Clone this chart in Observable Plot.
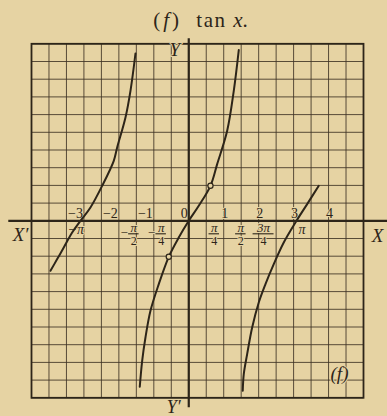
<!DOCTYPE html>
<html>
<head>
<meta charset="utf-8">
<script src="https://cdn.jsdelivr.net/npm/d3@7"></script>
<script src="https://cdn.jsdelivr.net/npm/@observablehq/plot@0.6"></script>
<style>
  html, body { margin: 0; padding: 0; background: #e6d3a3; }
  #chart svg { display: block; }
</style>
</head>
<body>
<div id="chart"></div>
<script>
// ---------- data ----------
const titleText = "(f) tan x.";
const cornerLabel = "(f)";

const intTickValues = [-3, -2, -1, 0, 1, 2, 3, 4];
const intTickLabels = ["−3", "−2", "−1", "0", "1", "2", "3", "4"];

const piWholeValues = [-Math.PI, Math.PI];
const piWholeLabels = ["−π", "π"];

const piFracValues = [-1.571, -0.79, 0.73, 1.49, 2.14];
const piFracSigns = ["−", "−", "", "", ""];
const piFracNumerators = ["π", "π", "π", "π", "3π"];
const piFracDenominators = ["2", "4", "4", "2", "4"];

const branch1X = [-3.957, -3.765, -3.577, -3.336, -3.099, -2.813, -2.478, -2.146, -2.049, -1.811, -1.668, -1.525];
const branch1Y = [-1.412, -1.082, -0.754, -0.331, 0, 0.376, 0.989, 1.695, 2.071, 2.918, 3.672, 4.726];

const branch2X = [-1.402, -1.333, -1.239, -1.096, -0.858, -0.572, -0.286, 0, 0.286, 0.621, 0.813, 1.099, 1.288, 1.431];
const branch2Y = [-4.689, -3.955, -3.297, -2.542, -1.788, -1.017, -0.472, 0, 0.424, 0.989, 1.602, 2.542, 3.672, 4.822];

const branch3X = [1.545, 1.574, 1.671, 1.814, 2.003, 2.195, 2.432, 2.718, 3.053, 3.388, 3.720];
const branch3Y = [-4.802, -4.331, -3.766, -3.014, -2.308, -1.788, -1.223, -0.613, -0.048, 0.472, 0.989];

const markedX = [0.621, -0.572];
const markedY = [0.989, -1.017];

const xDomain = [-4.5, 5];
const yDomain = [-5, 5];
const gridStep = 0.5;
const xAxisExtent = [-5.15, 5.7];
const yAxisExtent = [-5.28, 5.14];

// ---------- styles ----------
const ink = "#2d2519";
const gridInk = "#3e3324";
const paper = "#e6d3a3";
const serif = "'Liberation Serif', 'DejaVu Serif', serif";

// ---------- tables ----------
const curve = [
  ...branch1X.map((x, i) => ({branch: "a", x, y: branch1Y[i]})),
  ...branch2X.map((x, i) => ({branch: "b", x, y: branch2Y[i]})),
  ...branch3X.map((x, i) => ({branch: "c", x, y: branch3Y[i]}))
];
const intTicks = intTickValues.map((v, i) => ({v, label: intTickLabels[i]}));
const piWhole = piWholeValues.map((v, i) => ({v, label: piWholeLabels[i]}));
const piFracs = piFracValues.map((v, i) => ({
  v, sign: piFracSigns[i], num: piFracNumerators[i], den: piFracDenominators[i]
}));
const marked = markedX.map((x, i) => ({x, y: markedY[i]}));
const xGrid = d3.range(xDomain[0], xDomain[1] + 1e-9, gridStep);
const yGrid = d3.range(yDomain[0], yDomain[1] + 1e-9, gridStep);

const halo = {stroke: paper, strokeWidth: 2, fill: ink};

const chart = Plot.plot({
  width: 387,
  height: 416,
  marginLeft: 31,
  marginRight: 24,
  marginTop: 43.3,
  marginBottom: 18.7,
  x: {domain: xDomain, axis: null},
  y: {domain: yDomain, axis: null},
  style: {background: paper, fontFamily: serif, color: ink, overflow: "visible"},
  marks: [
    Plot.gridX(xGrid, {stroke: gridInk, strokeOpacity: 0.95, strokeWidth: 0.9}),
    Plot.gridY(yGrid, {stroke: gridInk, strokeOpacity: 0.95, strokeWidth: 0.9}),
    Plot.frame({stroke: ink, strokeWidth: 1.8}),

    // integer labels above the X axis
    Plot.text(intTicks, {filter: d => d.v <= 0, x: "v", y: () => 0, text: "label",
      textAnchor: "end", lineAnchor: "bottom", dx: -1, dy: -3, fontSize: 14, ...halo}),
    Plot.text(intTicks, {filter: d => d.v > 0, x: "v", y: () => 0, text: "label",
      textAnchor: "middle", lineAnchor: "bottom", dx: 1, dy: -3, fontSize: 14, ...halo}),

    // pi labels below the X axis
    Plot.text(piWhole, {filter: d => d.v < 0, x: "v", y: () => 0, text: "label",
      textAnchor: "end", lineAnchor: "bottom", dx: 5, dy: 13.5, fontSize: 14, fontStyle: "italic", ...halo}),
    Plot.text(piWhole, {filter: d => d.v > 0, x: "v", y: () => 0, text: "label",
      textAnchor: "start", lineAnchor: "bottom", dx: 0, dy: 13.5, fontSize: 14, fontStyle: "italic", ...halo}),
    Plot.text(piFracs, {x: "v", y: () => 0, text: "num",
      textAnchor: "middle", lineAnchor: "bottom", dy: 10.8, fontSize: 13, fontStyle: "italic", ...halo}),
    Plot.text(piFracs, {x: "v", y: () => 0, text: "den",
      textAnchor: "middle", lineAnchor: "bottom", dy: 24, fontSize: 12, ...halo}),
    Plot.text(piFracs, {x: "v", y: () => 0, text: "sign",
      textAnchor: "end", lineAnchor: "middle", dx: -6, dy: 12, fontSize: 13, ...halo}),
    Plot.ruleY(piFracs, {y: () => 0, x1: d => d.v - 0.15 * d.num.length, x2: d => d.v + 0.15 * d.num.length,
      dy: 13, stroke: ink, strokeWidth: 1.1}),

    // axis names
    Plot.text(["Y"], {x: () => 0, frameAnchor: "top", text: d => d, textAnchor: "middle", lineAnchor: "bottom",
      dx: -14, dy: 12, fontSize: 19, fontStyle: "italic", ...halo}),
    Plot.text(["Y′"], {x: () => 0, frameAnchor: "bottom", text: d => d, textAnchor: "middle", lineAnchor: "bottom",
      dx: -15, dy: 15.5, fontSize: 18, fontStyle: "italic", fill: ink}),
    Plot.text(["X′"], {y: () => 0, frameAnchor: "left", text: d => d, textAnchor: "middle", lineAnchor: "bottom",
      dx: -11, dy: 20, fontSize: 19, fontStyle: "italic", ...halo}),
    Plot.text(["X"], {y: () => 0, frameAnchor: "right", text: d => d, textAnchor: "middle", lineAnchor: "bottom",
      dx: 14, dy: 21, fontSize: 19, fontStyle: "italic", fill: ink}),
    Plot.text([cornerLabel], {frameAnchor: "bottom-right", text: d => d, textAnchor: "middle", lineAnchor: "bottom",
      dx: -24, dy: -18, fontSize: 19, fontStyle: "italic", ...halo}),

    // title
    Plot.text([titleText], {frameAnchor: "top", text: d => d, textAnchor: "middle", lineAnchor: "bottom",
      dx: 3, dy: -17, fontSize: 21, fill: ink}),

    // the curve branches
    Plot.line(curve, {x: "x", y: "y", z: "branch", curve: "catmull-rom", stroke: ink, strokeWidth: 2}),

    // axes
    Plot.ruleY([0], {x1: () => xAxisExtent[0], x2: () => xAxisExtent[1], stroke: ink, strokeWidth: 2.2}),
    Plot.ruleX([0], {y1: () => yAxisExtent[0], y2: () => yAxisExtent[1], stroke: ink, strokeWidth: 2.2}),

    // marked points
    Plot.dot(marked, {x: "x", y: "y", r: 2.6, fill: paper, stroke: ink, strokeWidth: 1.2})
  ]
});

// Mixed italics in the title
d3.select(chart).selectAll("text").filter(function () { return this.textContent === titleText; })
  .each(function () {
    const t = d3.select(this);
    t.text(null);
    t.append("tspan").text("(");
    t.append("tspan").attr("font-style", "italic").attr("dx", 3).text("f");
    t.append("tspan").attr("dx", 3).text(") ");
    t.append("tspan").attr("dx", 12).attr("letter-spacing", 1.5).text("tan ");
    t.append("tspan").attr("font-style", "italic").text("x");
    t.append("tspan").text(".");
  });

document.getElementById("chart").append(chart);
</script>
</body>
</html>
